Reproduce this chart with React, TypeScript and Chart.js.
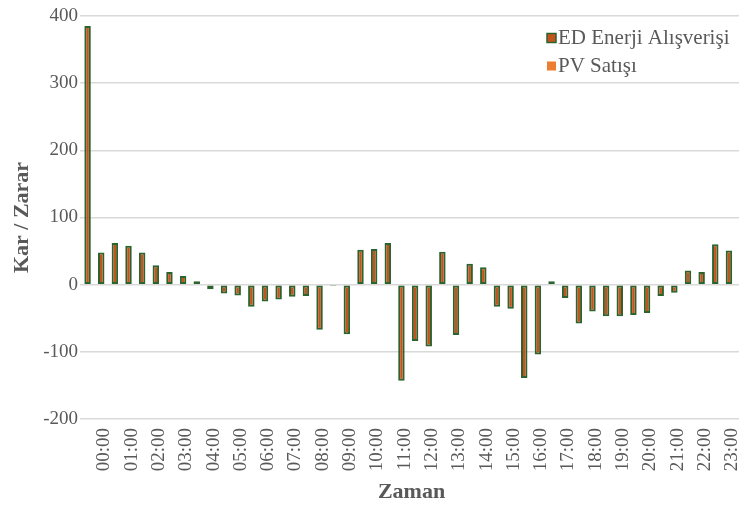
import { useEffect, useRef } from "react";
import { Chart, registerables } from "chart.js";

Chart.register(...registerables);

const categories = [
  "", "00:00", "", "01:00", "", "02:00", "", "03:00", "", "04:00", "", "05:00",
  "", "06:00", "", "07:00", "", "08:00", "", "09:00", "", "10:00", "", "11:00",
  "", "12:00", "", "13:00", "", "14:00", "", "15:00", "", "16:00", "", "17:00",
  "", "18:00", "", "19:00", "", "20:00", "", "21:00", "", "22:00", "", "23:00",
];

const edValues = [
  385, 48, 62, 58, 48, 29, 19, 13, 5, -7, -13, -16,
  -33, -25, -22, -18, -17, -67, -2, -74, 52, 53, 62, -143,
  -84, -92, 49, -75, 31, 26, -33, -36, -139, -104, 5, -20,
  -58, -40, -47, -47, -45, -42, -17, -12, 21, 19, 60, 51,
];

const pvValues = [
  0, 0, 0, 0, 0, 0, 0, 0, 0, 0, 0, 0,
  0, 0, 0, 0, 0, 0, 0, 0, 0, 0, 0, 0,
  0, 0, 0, 0, 0, 0, 0, 0, 0, 0, 0, 0,
  0, 0, 0, 0, 0, 0, 0, 0, 0, 0, 0, 0,
];

const seriesNames = ["ED Enerji Alışverişi", "PV Satışı"];
const yMin = -200;
const yMax = 400;
const yStep = 100;
const yTitle = "Kar / Zarar";
const xTitle = "Zaman";

const FONT = '"Liberation Serif", "Times New Roman", serif';
const TEXT = "#595959";

const legendPlugin = {
  id: "boxLegend",
  afterDraw(chart: any) {
    const ctx = chart.ctx;
    const x = 547;
    const y0 = 38;
    const gap = 28;
    chart.data.datasets.forEach((ds: any, i: number) => {
      const y = y0 + i * gap;
      ctx.save();
      ctx.fillStyle = ds.backgroundColor;
      ctx.fillRect(x, y - 4.5, 9, 9);
      if (i === 0) {
        ctx.strokeStyle = ds.borderColor;
        ctx.lineWidth = 1.5;
        ctx.strokeRect(x, y - 4.5, 9, 9);
      }
      ctx.fillStyle = TEXT;
      ctx.font = `21px ${FONT}`;
      ctx.textBaseline = "middle";
      ctx.textAlign = "left";
      ctx.fillText(ds.label, x + 11, y);
      ctx.restore();
    });
  },
};

export default function App() {
  const ref = useRef<HTMLCanvasElement | null>(null);

  useEffect(() => {
    if (!ref.current) return;
    const chart = new Chart(ref.current, {
      type: "bar",
      data: {
        labels: categories,
        datasets: [
          {
            label: seriesNames[0],
            data: edValues,
            backgroundColor: "#c5531c",
            borderColor: "#2c6430",
            borderWidth: 2,
            borderSkipped: false,
            categoryPercentage: 0.95,
            barPercentage: 1,
          },
          {
            label: seriesNames[1],
            data: pvValues,
            backgroundColor: "#ed7d31",
            borderColor: "#f4b183",
            borderWidth: 0,
            categoryPercentage: 0.95,
            barPercentage: 1,
          },
        ],
      },
      options: {
        animation: false,
        responsive: true,
        maintainAspectRatio: false,
        layout: { padding: { top: 16, right: 2, left: 0, bottom: 0 } },
        plugins: {
          legend: { display: false },
          tooltip: { enabled: false },
        },
        scales: {
          x: {
            grid: { display: false, drawTicks: false },
            border: { display: false },
            ticks: {
              autoSkip: false,
              maxRotation: 90,
              minRotation: 90,
              padding: 9,
              color: TEXT,
              font: { family: FONT, size: 19 },
            },
            title: {
              display: true,
              text: xTitle,
              color: TEXT,
              font: { family: FONT, size: 22, weight: "bold" },
              padding: { top: 0, bottom: 7 },
            },
            afterFit(scale: any) {
              scale.height = 94;
              scale.paddingLeft = 0;
              scale.paddingRight = 0;
            },
          },
          y: {
            min: yMin,
            max: yMax,
            ticks: {
              stepSize: yStep,
              padding: 2,
              color: TEXT,
              font: { family: FONT, size: 19 },
            },
            grid: {
              color: "#d9d9d9",
              lineWidth: 1.5,
              tickLength: 4,
            },
            border: { display: false },
            title: {
              display: true,
              text: yTitle,
              color: TEXT,
              font: { family: FONT, size: 22, weight: "bold" },
              padding: { top: 9, bottom: 0 },
            },
            afterFit(scale: any) {
              scale.width = 84;
              scale.paddingTop = 0;
              scale.paddingBottom = 0;
            },
          },
        },
      },
      plugins: [legendPlugin],
    });
    return () => chart.destroy();
  }, []);

  return (
    <div style={{ position: "absolute", left: 0, top: 0, width: 741, height: 513, background: "#fff" }}>
      <canvas ref={ref} />
    </div>
  );
}
